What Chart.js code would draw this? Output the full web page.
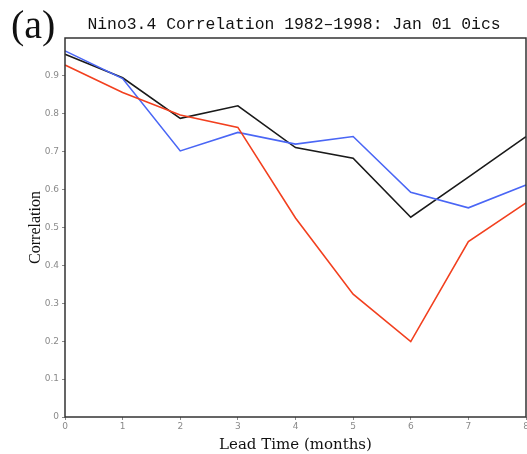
<!DOCTYPE html>
<html>
<head>
<meta charset="utf-8">
<script src="https://cdn.jsdelivr.net/npm/chart.js@4.4.1/dist/chart.umd.min.js"></script>
<style>
  html, body { margin: 0; padding: 0; background: #fff; }
  #wrap { width: 527px; height: 454px; position: relative; }
</style>
</head>
<body>
<div id="wrap"><canvas id="chart" width="527" height="454"></canvas></div>
<script>
const leadMonths = ["0", "1", "2", "3", "4", "5", "6", "7", "8"];
const yTickValues = [0, 0.1, 0.2, 0.3, 0.4, 0.5, 0.6, 0.7, 0.8, 0.9];

const corrBlack = [0.957, 0.895, 0.788, 0.821, 0.711, 0.683, 0.527, 0.633, 0.740];
const corrBlue = [0.966, 0.893, 0.702, 0.751, 0.720, 0.740, 0.593, 0.552, 0.612];
const corrRed = [0.929, 0.856, 0.797, 0.764, 0.525, 0.324, 0.199, 0.463, 0.565];

const PANEL_LABEL = "(a)";
const TITLE_TEXT = "Nino3.4 Correlation 1982\u20131998: Jan 01 0ics";

const TICK_COLOR = "#8a8a8a";
const FRAME_COLOR = "#333";

// panel letter, title and the box round the plot area
const frameAndTitle = {
  id: "frameAndTitle",
  afterDraw(chart) {
    const { ctx, chartArea: a } = chart;
    ctx.save();
    ctx.strokeStyle = FRAME_COLOR;
    ctx.lineWidth = 1.5;
    ctx.strokeRect(a.left, a.top, a.right - a.left, a.bottom - a.top);

    ctx.fillStyle = "#111";
    ctx.textBaseline = "alphabetic";
    ctx.textAlign = "left";
    ctx.font = "40px 'Liberation Serif'";
    ctx.fillText(PANEL_LABEL, 11, 38);

    ctx.font = "16.4px 'Liberation Mono'";
    ctx.textAlign = "center";
    ctx.fillText(TITLE_TEXT, 294, 29);
    ctx.restore();
  },
};

function series(label, data, color) {
  return {
    label,
    data,
    borderColor: color,
    backgroundColor: color,
    borderWidth: 1.6,
    pointRadius: 0,
    tension: 0,
    fill: false,
  };
}

new Chart(document.getElementById("chart"), {
  type: "line",
  data: {
    labels: leadMonths,
    datasets: [
      series("red", corrRed, "#f2401f"),
      series("blue", corrBlue, "#4a66f5"),
      series("black", corrBlack, "#1a1a1a"),
    ],
  },
  options: {
    responsive: false,
    animation: false,
    layout: { padding: { top: 38, right: 1, left: 0, bottom: 0 } },
    plugins: {
      legend: { display: false },
      tooltip: { enabled: false },
    },
    scales: {
      x: {
        offset: false,
        grid: { drawOnChartArea: false, drawTicks: true, tickLength: 3, color: TICK_COLOR },
        border: { display: false },
        ticks: { color: TICK_COLOR, font: { size: 9, family: "'DejaVu Sans'" }, padding: 1, maxRotation: 0 },
        title: {
          display: true,
          text: "Lead Time (months)",
          color: "#111",
          font: { size: 15, family: "'DejaVu Serif'" },
          padding: { top: 3, bottom: 0 },
        },
        afterFit(scale) {
          scale.height = 37;
          scale.paddingLeft = 0;
          scale.paddingRight = 0;
        },
      },
      y: {
        min: 0,
        max: 1,
        grid: { drawOnChartArea: false, drawTicks: true, tickLength: 3, color: TICK_COLOR },
        border: { display: false },
        afterBuildTicks(scale) { scale.ticks = yTickValues.map((v) => ({ value: v })); },
        ticks: {
          color: TICK_COLOR,
          font: { size: 9, family: "'DejaVu Sans'" },
          padding: 3,
          callback: (v) => (v === 0 ? "0" : v.toFixed(1)),
        },
        title: {
          display: true,
          text: "Correlation",
          color: "#111",
          font: { size: 16, family: "'Liberation Serif'" },
          padding: { top: 26, bottom: 0 },
        },
        afterFit(scale) {
          scale.width = 65;
          scale.paddingTop = 0;
          scale.paddingBottom = 0;
        },
      },
    },
  },
  plugins: [frameAndTitle],
});
</script>
</body>
</html>
